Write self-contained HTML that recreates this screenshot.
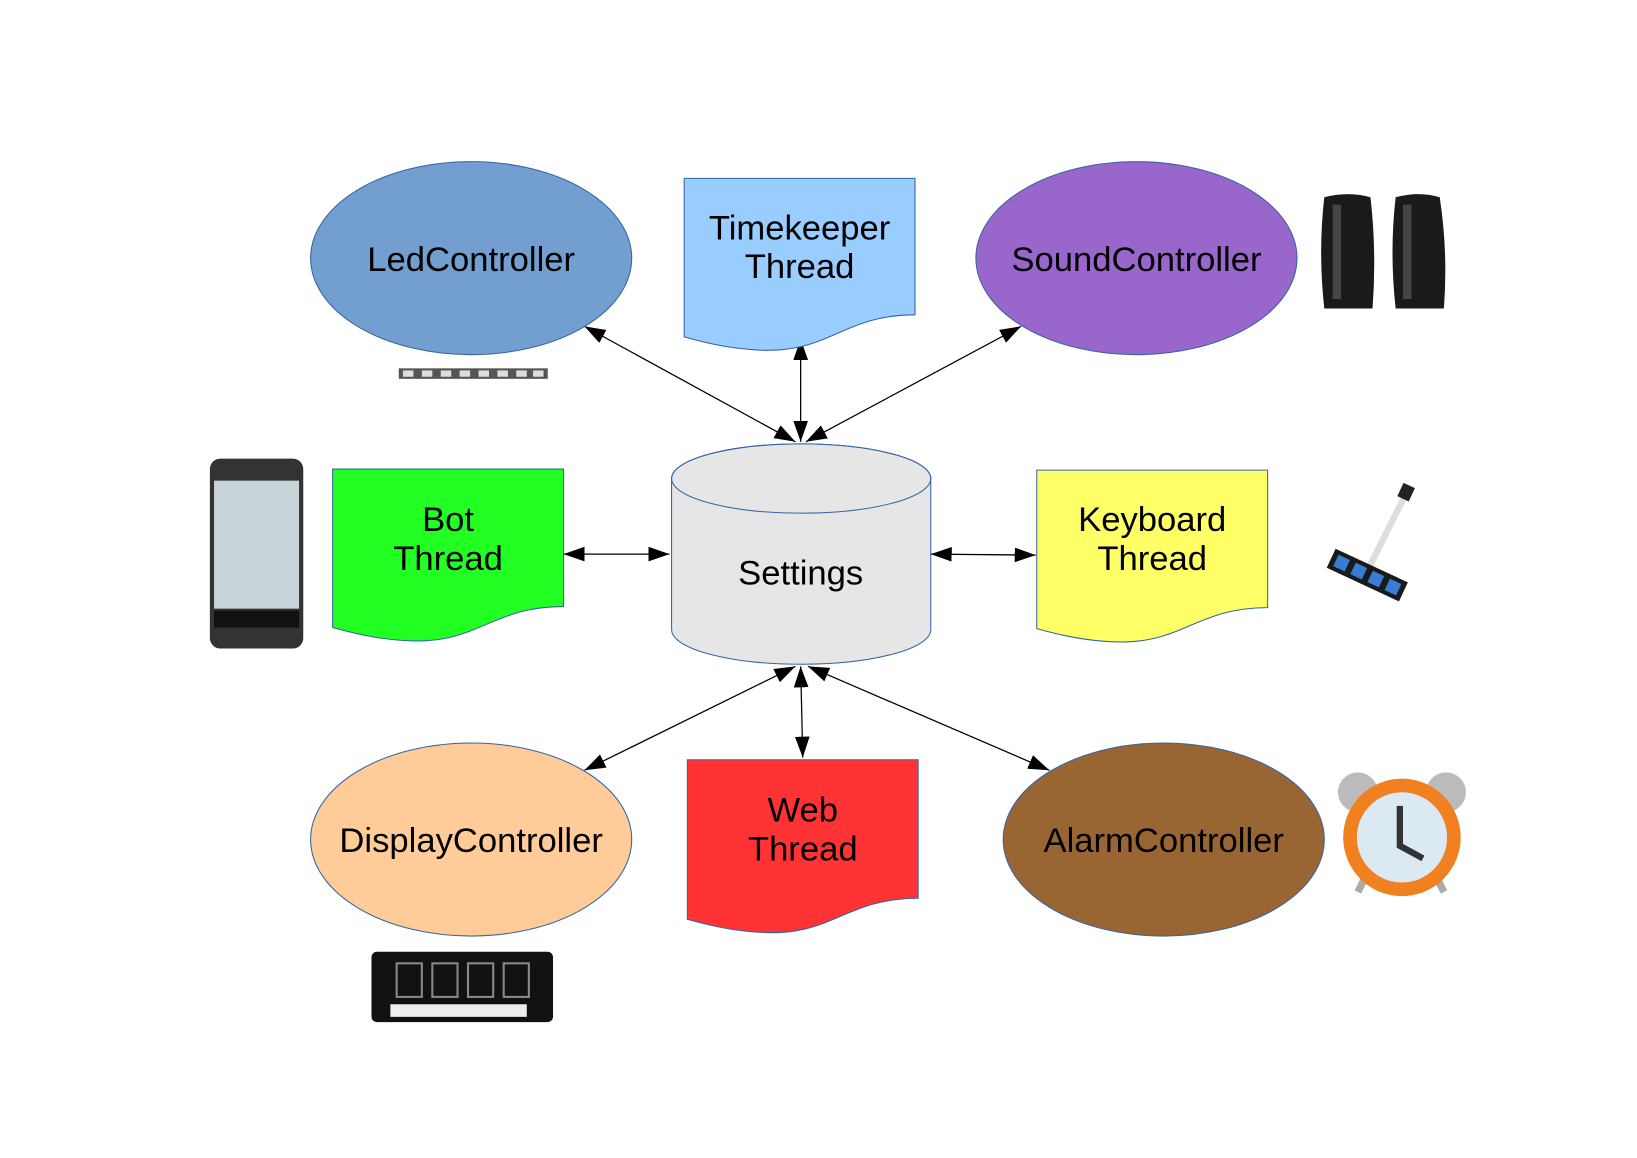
<!DOCTYPE html>
<html><head><meta charset="utf-8"><style>
html,body{margin:0;padding:0;background:#fff;}
svg{display:block;}
text{font-family:"Liberation Sans",sans-serif;font-size:33px;fill:#000;text-anchor:middle;}
</style></head><body>
<svg width="1637" height="1158" viewBox="0 0 1560 1103.5" xmlns="http://www.w3.org/2000/svg">
<defs>
<marker id="a" viewBox="0 0 20 14" refX="20" refY="7" markerWidth="20" markerHeight="14" markerUnits="userSpaceOnUse" orient="auto-start-reverse"><path d="M0,0 L20,7 L0,14 Z" fill="#000"/></marker>
</defs>
<rect width="1560" height="1104" fill="#fff"/>
<g stroke="#000" stroke-width="1.2" fill="none" marker-start="url(#a)" marker-end="url(#a)">
<line x1="557" y1="311" x2="758" y2="421"/>
<line x1="763" y1="323" x2="763" y2="421"/>
<line x1="973" y1="311" x2="768" y2="421"/>
<line x1="537" y1="528" x2="638" y2="528"/>
<line x1="887" y1="528" x2="987" y2="529"/>
<line x1="557" y1="734" x2="758" y2="635"/>
<line x1="765" y1="722" x2="763" y2="635"/>
<line x1="1000" y1="734" x2="770" y2="635"/>
</g>
<g stroke="#3465a4" stroke-width="1">
<ellipse cx="449" cy="246" rx="153" ry="92" fill="#729fcf"/>
<ellipse cx="1083" cy="246" rx="153" ry="92" fill="#9966cc"/>
<ellipse cx="449" cy="800" rx="153" ry="92" fill="#ffcc99"/>
<ellipse cx="1109" cy="800" rx="153" ry="92" fill="#996633"/>
<path d="M652,170 H872 V300 C800,300 790,340 715,333 C690,331 670,326 652,321 Z" fill="#99ccff"/>
<path d="M317,447 H537 V578 C465,578 455,617 380,610 C355,608 335,603 317,598 Z" fill="#22ff22"/>
<path d="M988,448 H1208 V579 C1136,579 1126,618 1051,611 C1026,609 1006,604 988,599 Z" fill="#ffff66"/>
<path d="M655,724 H875 V856 C803,856 793,895 718,888 C693,886 673,881 655,876 Z" fill="#ff3333"/>
<path d="M640,456 A123.5,33 0 0 1 887,456 V600 A123.5,33 0 0 1 640,600 Z" fill="#e6e6e6"/>
<ellipse cx="763.5" cy="456" rx="123.5" ry="33" fill="none"/>
</g>
<text x="449" y="258">LedController</text>
<text x="1083" y="258">SoundController</text>
<text x="449" y="812">DisplayController</text>
<text x="1109" y="812">AlarmController</text>
<text x="762" y="228">Timekeeper</text>
<text x="762" y="265">Thread</text>
<text x="427" y="506">Bot</text>
<text x="427" y="543">Thread</text>
<text x="1098" y="506">Keyboard</text>
<text x="1098" y="543">Thread</text>
<text x="765" y="783">Web</text>
<text x="765" y="820">Thread</text>
<text x="763" y="557">Settings</text>
<rect x="380" y="351" width="142" height="10" fill="#555"/>
<g fill="#ddd"><rect x="384" y="353" width="10" height="6"/><rect x="402" y="353" width="10" height="6"/><rect x="420" y="353" width="10" height="6"/><rect x="438" y="353" width="10" height="6"/><rect x="456" y="353" width="10" height="6"/><rect x="474" y="353" width="10" height="6"/><rect x="492" y="353" width="10" height="6"/><rect x="508" y="353" width="10" height="6"/></g>
<path d="M1262,188 Q1285,182 1306,188 Q1312,240 1308,294 L1262,294 Q1256,240 1262,188 Z" fill="#1a1a1a"/>
<path d="M1330,188 Q1352,182 1372,188 Q1380,240 1376,294 L1330,294 Q1324,240 1330,188 Z" fill="#1a1a1a"/>
<rect x="1270" y="195" width="8" height="90" fill="#444"/><rect x="1337" y="195" width="8" height="90" fill="#444"/>
<rect x="200" y="437" width="89" height="181" rx="10" fill="#333"/>
<rect x="204" y="458" width="81" height="122" fill="#c9d3da"/>
<rect x="204" y="582" width="81" height="16" fill="#111"/>
<line x1="1340" y1="470" x2="1305" y2="540" stroke="#ddd" stroke-width="6"/>
<rect x="1334" y="462" width="12" height="14" fill="#222" transform="rotate(25 1340 469)"/>
<g transform="rotate(25 1303 548)"><rect x="1265" y="538" width="76" height="20" fill="#1a1a1a"/>
<rect x="1270" y="542" width="12" height="12" fill="#3a7bd5"/><rect x="1288" y="542" width="12" height="12" fill="#3a7bd5"/><rect x="1306" y="542" width="12" height="12" fill="#3a7bd5"/><rect x="1324" y="542" width="12" height="12" fill="#3a7bd5"/></g>
<circle cx="1294" cy="755" r="19" fill="#bbb"/><circle cx="1378" cy="755" r="19" fill="#bbb"/>
<line x1="1300" y1="838" x2="1294" y2="850" stroke="#aaa" stroke-width="7"/><line x1="1370" y1="838" x2="1376" y2="850" stroke="#aaa" stroke-width="7"/>
<circle cx="1336" cy="798" r="56" fill="#f08020"/>
<circle cx="1336" cy="798" r="43" fill="#dbe9f2"/>
<path d="M1334,768 V806 L1356,818" stroke="#333" stroke-width="6" fill="none"/>
<rect x="354" y="907" width="173" height="67" rx="5" fill="#111"/>
<rect x="372" y="957" width="130" height="12" fill="#eee"/>
<g fill="none" stroke="#888" stroke-width="2"><rect x="378" y="918" width="24" height="32"/><rect x="412" y="918" width="24" height="32"/><rect x="446" y="918" width="24" height="32"/><rect x="480" y="918" width="24" height="32"/></g>
</svg>
</body></html>
